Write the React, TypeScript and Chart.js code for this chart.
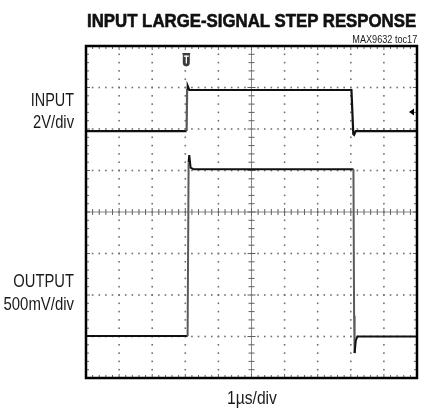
import React, { useEffect, useRef } from 'react';
import { Chart, registerables } from 'chart.js';

Chart.register(...registerables);

// Screen divisions (1 µs/div horizontally, 8 vertical divisions)
const xDivisions = [0, 1, 2, 3, 4, 5, 6, 7, 8, 9, 10];
const yDivisions = [0, 1, 2, 3, 4, 5, 6, 7, 8];
const minorPerDiv = 5;

// INPUT trace (time in µs, position in divisions)
const inputTime = [0, 3.04, 3.055, 3.075, 3.12, 8.02, 8.075, 8.1, 8.15, 10];
const inputLevel = [5.95, 5.95, 6.97, 7.03, 6.94, 6.94, 5.88, 5.86, 5.95, 5.95];

// OUTPUT trace (time in µs, position in divisions)
const outputTime = [0, 3.07, 3.1, 3.12, 3.16, 3.25, 8.08, 8.1, 8.115, 8.15, 8.2, 10];
const outputLevel = [1.01, 1.01, 5.2, 5.37, 5.07, 5.03, 5.03, 1.5, 0.6, 0.9, 1.0, 1.0];

// Trigger markers
const triggerTime = 3.03;
const triggerLevel = 6.41;

const W = 433;
const H = 410;

const toPoints = (t: number[], v: number[]) => t.map((tt, i) => ({ x: tt, y: v[i] }));

const steepColor = (ctx: any) => {
  const dx = Math.abs(ctx.p1.parsed.x - ctx.p0.parsed.x);
  const dy = Math.abs(ctx.p1.parsed.y - ctx.p0.parsed.y);
  return dy > 0.5 && dy / Math.max(dx, 1e-6) > 20 ? '#5a5a5a' : '#111111';
};

const graticule = {
  id: 'graticule',
  beforeDatasetsDraw(chart: any) {
    const { ctx, chartArea: a, scales } = chart;
    const xs = scales.x;
    const ys = scales.y;
    const xMin = xDivisions[0];
    const xMax = xDivisions[xDivisions.length - 1];
    const yMin = yDivisions[0];
    const yMax = yDivisions[yDivisions.length - 1];
    const xCenter = (xMin + xMax) / 2;
    const yCenter = (yMin + yMax) / 2;
    const step = 1 / minorPerDiv;
    ctx.save();
    ctx.fillStyle = '#707070';
    for (const gx of xDivisions) {
      if (gx === xMin || gx === xMax || gx === xCenter) continue;
      const px = xs.getPixelForValue(gx);
      for (let k = 1; k < (yMax - yMin) * minorPerDiv; k++) {
        const py = ys.getPixelForValue(yMin + k * step);
        ctx.fillRect(px - 0.8, py - 0.8, 1.6, 1.6);
      }
    }
    for (const gy of yDivisions) {
      if (gy === yMin || gy === yMax || gy === yCenter) continue;
      const py = ys.getPixelForValue(gy);
      for (let k = 1; k < (xMax - xMin) * minorPerDiv; k++) {
        const px = xs.getPixelForValue(xMin + k * step);
        ctx.fillRect(px - 0.8, py - 0.8, 1.6, 1.6);
      }
    }
    const cx = xs.getPixelForValue(xCenter);
    const cy = ys.getPixelForValue(yCenter);
    ctx.strokeStyle = '#8a8a8a';
    ctx.lineWidth = 1;
    ctx.beginPath();
    ctx.moveTo(a.left, cy);
    ctx.lineTo(a.right, cy);
    ctx.moveTo(cx, a.top);
    ctx.lineTo(cx, a.bottom);
    ctx.stroke();
    ctx.strokeStyle = '#606060';
    ctx.beginPath();
    for (let k = 1; k < (xMax - xMin) * minorPerDiv; k++) {
      const px = xs.getPixelForValue(xMin + k * step);
      const len = k % minorPerDiv === 0 ? 4 : 3;
      ctx.moveTo(px, cy - len);
      ctx.lineTo(px, cy + len);
    }
    for (let k = 1; k < (yMax - yMin) * minorPerDiv; k++) {
      const py = ys.getPixelForValue(yMin + k * step);
      const len = k % minorPerDiv === 0 ? 4 : 3;
      ctx.moveTo(cx - len, py);
      ctx.lineTo(cx + len, py);
    }
    for (let k = 1; k < (xMax - xMin) * minorPerDiv; k++) {
      const px = xs.getPixelForValue(xMin + k * step);
      const len = k % minorPerDiv === 0 ? 4 : 3;
      ctx.moveTo(px, a.top);
      ctx.lineTo(px, a.top + len);
      ctx.moveTo(px, a.bottom);
      ctx.lineTo(px, a.bottom - len);
    }
    for (let k = 1; k < (yMax - yMin) * minorPerDiv; k++) {
      const py = ys.getPixelForValue(yMin + k * step);
      const len = k % minorPerDiv === 0 ? 4 : 3;
      ctx.moveTo(a.left, py);
      ctx.lineTo(a.left + len, py);
      ctx.moveTo(a.right, py);
      ctx.lineTo(a.right - len, py);
    }
    ctx.stroke();
    ctx.restore();
  },
  afterDatasetsDraw(chart: any) {
    const { ctx, chartArea: a, scales } = chart;
    ctx.save();
    ctx.strokeStyle = '#000';
    ctx.lineWidth = 2.5;
    ctx.strokeRect(a.left, a.top, a.right - a.left, a.bottom - a.top);
    const tx = scales.x.getPixelForValue(triggerTime);
    const ty = a.top + 7;
    ctx.fillStyle = '#3c3c3c';
    ctx.beginPath();
    ctx.moveTo(tx - 4, ty);
    ctx.lineTo(tx + 4, ty);
    ctx.lineTo(tx + 3.5, ty + 2);
    ctx.lineTo(tx + 3.5, ty + 10);
    ctx.quadraticCurveTo(tx + 3.5, ty + 13, tx, ty + 13.5);
    ctx.quadraticCurveTo(tx - 3.5, ty + 13, tx - 3.5, ty + 10);
    ctx.lineTo(tx - 3.5, ty + 2);
    ctx.closePath();
    ctx.fill();
    ctx.fillStyle = '#fff';
    ctx.fillRect(tx - 2.5, ty + 2.5, 5, 1.3);
    ctx.fillRect(tx - 0.6, ty + 2.5, 1.3, 8);
    const ly = scales.y.getPixelForValue(triggerLevel);
    ctx.fillStyle = '#000';
    ctx.beginPath();
    ctx.moveTo(a.right - 8, ly);
    ctx.lineTo(a.right - 3, ly - 3.5);
    ctx.lineTo(a.right - 3, ly + 3.5);
    ctx.closePath();
    ctx.fill();
    ctx.restore();
  },
};

type Anchor = 'left' | 'right';

const label = (
  text: string,
  size: number,
  baseline: number,
  x: number,
  anchor: Anchor,
  scale: number,
  bold = false
): React.ReactElement => {
  const style: React.CSSProperties = {
    position: 'absolute',
    top: baseline - 0.8465 * size,
    fontSize: size,
    lineHeight: `${size}px`,
    fontFamily: '"Liberation Sans", Arial, sans-serif',
    fontWeight: bold ? 'bold' : 'normal',
    color: '#1a1a1a',
    whiteSpace: 'nowrap',
  };
  if (bold) {
    (style as any).WebkitTextStroke = '0.6px #111';
    style.color = '#111';
  }
  if (anchor === 'right') {
    style.right = W - x;
    style.transformOrigin = 'right center';
  } else {
    style.left = x;
    style.transformOrigin = 'left center';
  }
  style.transform = `scaleX(${scale})`;
  return <div style={style}>{text}</div>;
};

export default function App() {
  const canvasRef = useRef<HTMLCanvasElement | null>(null);

  useEffect(() => {
    if (!canvasRef.current) return;
    const chart = new Chart(canvasRef.current, {
      type: 'line',
      data: {
        datasets: [
          {
            label: 'INPUT',
            data: toPoints(inputTime, inputLevel),
            borderColor: '#111',
            borderWidth: 2.2,
            pointRadius: 0,
            tension: 0,
            segment: { borderColor: steepColor },
          },
          {
            label: 'OUTPUT',
            data: toPoints(outputTime, outputLevel),
            borderColor: '#111',
            borderWidth: 2,
            pointRadius: 0,
            tension: 0,
            segment: { borderColor: steepColor },
          },
        ],
      },
      options: {
        animation: false,
        responsive: false,
        devicePixelRatio: 1,
        layout: { padding: { left: 86, right: 16, top: 46, bottom: 32 } },
        plugins: { legend: { display: false }, tooltip: { enabled: false }, title: { display: false } },
        events: [],
        scales: {
          x: {
            type: 'linear',
            min: xDivisions[0],
            max: xDivisions[xDivisions.length - 1],
            display: false,
          },
          y: {
            type: 'linear',
            min: yDivisions[0],
            max: yDivisions[yDivisions.length - 1],
            display: false,
          },
        },
      },
      plugins: [graticule],
    });
    return () => chart.destroy();
  }, []);

  return (
    <div style={{ position: 'absolute', left: 0, top: 0, width: W, height: H, background: '#fff' }}>
      <canvas ref={canvasRef} width={W} height={H} style={{ width: W, height: H, display: 'block' }} />
      {label('INPUT LARGE-SIGNAL STEP RESPONSE', 19, 27, 87, 'left', 0.885, true)}
      {label('MAX9632 toc17', 11, 43, 417, 'right', 0.83)}
      {label('INPUT', 18, 106, 74, 'right', 0.8)}
      {label('2V/div', 18, 128, 74, 'right', 0.82)}
      {label('OUTPUT', 18, 287, 74, 'right', 0.82)}
      {label('500mV/div', 18, 310, 74, 'right', 0.83)}
      {label('1µs/div', 18, 404, 227, 'left', 0.87)}
    </div>
  );
}
